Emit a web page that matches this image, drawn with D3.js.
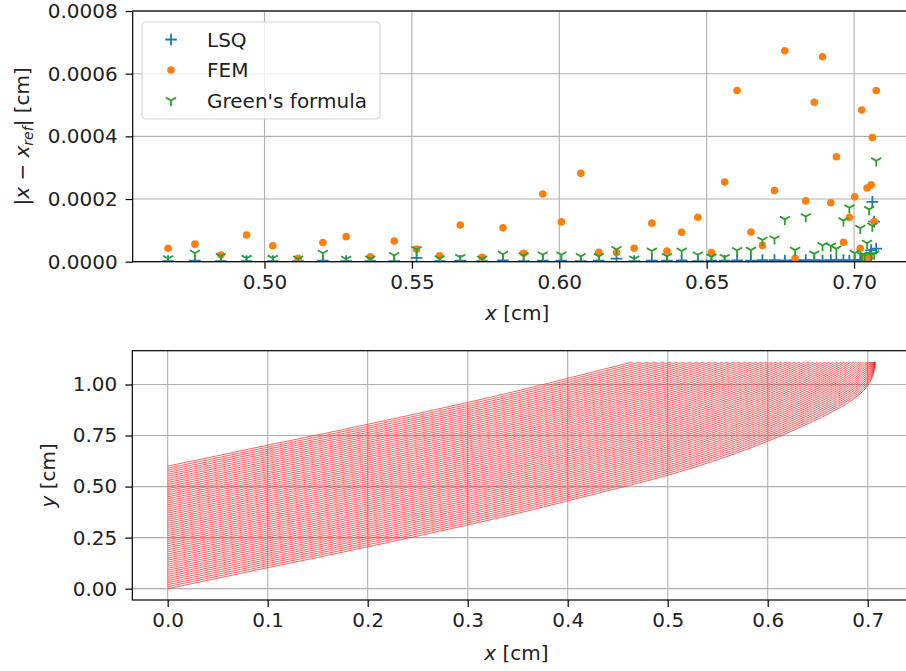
<!DOCTYPE html>
<html>
<head>
<meta charset="utf-8">
<script src="https://cdn.jsdelivr.net/npm/d3@7"></script>
<style>
  body { margin: 0; background: #fff; }
  svg { display: block; font-family: "DejaVu Sans", sans-serif; }
</style>
</head>
<body>
<div id="chart"></div>
<script>
// Endpoint error data (x in cm, errors in cm)
const errX = [0.4673, 0.4764, 0.4852, 0.4939, 0.5028, 0.5114, 0.5198, 0.5277, 0.5359, 0.5440,
  0.5516, 0.5594, 0.5664, 0.5738, 0.5809, 0.5879, 0.5944, 0.6007, 0.6073, 0.6134,
  0.6194, 0.6254, 0.6314, 0.6365, 0.6415, 0.6470, 0.6516, 0.6561, 0.6603, 0.6650,
  0.6689, 0.6730, 0.6765, 0.6800, 0.6836, 0.6865, 0.6893, 0.6921, 0.6940, 0.6964,
  0.6984, 0.7002, 0.7021, 0.7026, 0.7036, 0.7044, 0.7051, 0.7058, 0.7062, 0.7068, 0.7075];

const lsqErr = [0.2e-5, 0.3e-5, 0.2e-5, 0.2e-5, 0.2e-5, 0.2e-5, 0.3e-5, 0.2e-5, 0.2e-5, 0.2e-5,
  1.2e-5, 0.2e-5, 0.3e-5, 0.2e-5, 0.4e-5, 0.2e-5, 0.3e-5, 0.3e-5, 0.2e-5, 0.3e-5,
  1.0e-5, 0.2e-5, 0.3e-5, 0.3e-5, 0.4e-5, 0.2e-5, 0.3e-5, 0.3e-5, 0.4e-5, 0.3e-5,
  0.5e-5, 0.5e-5, 0.4e-5, 0.5e-5, 0.5e-5, 0.5e-5, 0.4e-5, 0.5e-5, 0.5e-5, 0.5e-5,
  0.4e-5, 0.4e-5, 0.5e-5, 0.6e-5, 0.8e-5, 1.0e-5, 1.2e-5, 3.7e-5, 19.1e-5, 12.8e-5, 4.2e-5];

const femErr = [4.3e-5, 5.6e-5, 2.1e-5, 8.5e-5, 5.1e-5, 1.1e-5, 6.1e-5, 8.0e-5, 1.6e-5, 6.6e-5,
  4.0e-5, 1.9e-5, 11.7e-5, 1.4e-5, 10.8e-5, 2.7e-5, 21.6e-5, 12.7e-5, 28.2e-5, 3.0e-5,
  2.9e-5, 4.3e-5, 12.3e-5, 3.4e-5, 9.4e-5, 14.2e-5, 2.9e-5, 25.4e-5, 54.6e-5, 9.5e-5,
  5.2e-5, 22.7e-5, 67.3e-5, 1.1e-5, 19.4e-5, 50.9e-5, 65.4e-5, 18.8e-5, 33.5e-5, 6.2e-5,
  14.2e-5, 20.7e-5, 4.3e-5, 48.4e-5, 1.0e-5, 23.5e-5, 1.5e-5, 24.5e-5, 39.6e-5, 12.8e-5, 54.6e-5];

const greenErr = [1.0e-5, 2.7e-5, 1.7e-5, 1.1e-5, 1.1e-5, 0.9e-5, 2.7e-5, 0.8e-5, 0.9e-5, 2.0e-5,
  3.9e-5, 1.0e-5, 1.4e-5, 0.9e-5, 2.4e-5, 1.9e-5, 2.2e-5, 2.2e-5, 1.7e-5, 1.7e-5,
  3.9e-5, 0.9e-5, 3.4e-5, 1.7e-5, 3.4e-5, 2.2e-5, 1.5e-5, 1.4e-5, 3.6e-5, 3.7e-5,
  6.9e-5, 7.3e-5, 13.5e-5, 3.7e-5, 14.4e-5, 2.5e-5, 5.2e-5, 5.0e-5, 4.1e-5, 13.1e-5,
  17.2e-5, 2.7e-5, 10.7e-5, 2.1e-5, 2.1e-5, 5.9e-5, 16.7e-5, 2.1e-5, 11.4e-5, 2.5e-5, 32.2e-5];

const seriesNames = ["LSQ", "FEM", "Green's formula"];
const seriesColors = ["#1f77b4", "#ff7f0e", "#2ca02c"];

const errTicksX = [0.50, 0.55, 0.60, 0.65, 0.70];
const errTicksY = [0, 0.0002, 0.0004, 0.0006, 0.0008];
const errLimY = [0, 0.0008];

// Trajectories: base path shape and start heights on x = 0
const pathX = [0, 0.05, 0.1, 0.15, 0.2, 0.25, 0.3, 0.35, 0.4, 0.45, 0.5, 0.55, 0.6,
  0.63, 0.66, 0.68, 0.69, 0.70, 0.704, 0.706, 0.707, 0.7075];
const pathY = [0, 0.051, 0.103, 0.153, 0.205, 0.258, 0.312, 0.369, 0.43, 0.492, 0.555, 0.632, 0.722,
  0.785, 0.855, 0.91, 0.945, 0.995, 1.03, 1.06, 1.085, 1.12];
const startY = [0, 0.01, 0.02, 0.03, 0.04, 0.05, 0.06, 0.07, 0.08, 0.09,
  0.10, 0.11, 0.12, 0.13, 0.14, 0.15, 0.16, 0.17, 0.18, 0.19,
  0.20, 0.21, 0.22, 0.23, 0.24, 0.25, 0.26, 0.27, 0.28, 0.29,
  0.30, 0.31, 0.32, 0.33, 0.34, 0.35, 0.36, 0.37, 0.38, 0.39,
  0.40, 0.41, 0.42, 0.43, 0.44, 0.45, 0.46, 0.47, 0.48, 0.49,
  0.50, 0.51, 0.52, 0.53, 0.54, 0.55, 0.56, 0.57, 0.58, 0.59, 0.60];
const yCut = 1.11;

const trajTicksX = [0, 0.1, 0.2, 0.3, 0.4, 0.5, 0.6, 0.7];
const trajTicksY = [0, 0.25, 0.5, 0.75, 1.0];

// Layout
const width = 906, height = 671;
const fontSize = 20;
const panelTop = { left: 132.7, right: 911.6, top: 11, bottom: 261.7 };
const panelBot = { left: 132.3, right: 910.6, top: 350.7, bottom: 600 };

const svg = d3.select("#chart").append("svg")
  .attr("width", width)
  .attr("height", height)
  .attr("viewBox", `0 0 ${width} ${height}`);

svg.append("rect").attr("width", width).attr("height", height).attr("fill", "#fff");

function padded(ext, frac) {
  const p = (ext[1] - ext[0]) * frac;
  return [ext[0] - p, ext[1] + p];
}

function drawFrame(p, x, y, xTicks, yTicks, xFmt, yFmt) {
  const g = svg.append("g");
  // grid
  g.selectAll(".gx").data(xTicks).join("line")
    .attr("x1", d => x(d)).attr("x2", d => x(d))
    .attr("y1", p.top).attr("y2", p.bottom)
    .attr("stroke", "#b0b0b0").attr("stroke-width", 1.1);
  g.selectAll(".gy").data(yTicks).join("line")
    .attr("x1", p.left).attr("x2", p.right)
    .attr("y1", d => y(d)).attr("y2", d => y(d))
    .attr("stroke", "#b0b0b0").attr("stroke-width", 1.1);

  const xAxis = svg.append("g")
    .attr("transform", `translate(0,${p.bottom})`)
    .call(d3.axisBottom(x).tickValues(xTicks).tickFormat(xFmt).tickSize(7).tickPadding(6).tickSizeOuter(0));
  const yAxis = svg.append("g")
    .attr("transform", `translate(${p.left},0)`)
    .call(d3.axisLeft(y).tickValues(yTicks).tickFormat(yFmt).tickSize(7).tickPadding(8).tickSizeOuter(0));
  [xAxis, yAxis].forEach(a => {
    a.select(".domain").remove();
    a.selectAll("line").attr("stroke", "#000").attr("stroke-width", 1.2);
    a.selectAll("text").attr("fill", "#222").style("font-size", fontSize + "px")
      .style("font-family", "DejaVu Sans, sans-serif");
  });
  return g;
}

function drawSpines(p) {
  svg.append("rect")
    .attr("x", p.left).attr("y", p.top)
    .attr("width", p.right - p.left).attr("height", p.bottom - p.top)
    .attr("fill", "none").attr("stroke", "#000").attr("stroke-width", 1.2);
}

const markerPath = {
  plus: "M-5.8,0H5.8M0,-5.8V5.8",
  tri: "M0,0V5.8M0,0L-5.02,-2.9M0,0L5.02,-2.9"
};

function drawMarker(g, kind, color, cx, cy) {
  if (kind === "dot") {
    g.append("circle").attr("cx", cx).attr("cy", cy).attr("r", 3.8).attr("fill", color);
  } else {
    g.append("path").attr("d", markerPath[kind])
      .attr("transform", `translate(${cx},${cy})`)
      .attr("fill", "none").attr("stroke", color).attr("stroke-width", 1.8);
  }
}

// ---- Top panel: endpoint errors ----
const xErr = d3.scaleLinear().domain(padded(d3.extent(errX), 0.05)).range([panelTop.left, panelTop.right]);
const yErr = d3.scaleLinear().domain(errLimY).range([panelTop.bottom, panelTop.top]);

drawFrame(panelTop, xErr, yErr, errTicksX, errTicksY, d3.format(".2f"), d3.format(".4f"));

svg.append("clipPath").attr("id", "clipTop").append("rect")
  .attr("x", panelTop.left).attr("y", panelTop.top)
  .attr("width", panelTop.right - panelTop.left).attr("height", panelTop.bottom - panelTop.top);

const pts = svg.append("g").attr("clip-path", "url(#clipTop)");
const seriesData = [lsqErr, femErr, greenErr];
const kinds = ["plus", "dot", "tri"];
seriesData.forEach((vals, s) => {
  const gs = pts.append("g");
  vals.forEach((v, i) => drawMarker(gs, kinds[s], seriesColors[s], xErr(errX[i]), yErr(v)));
});

drawSpines(panelTop);

// legend
const leg = svg.append("g").attr("transform", "translate(142,22)");
leg.append("rect").attr("width", 238).attr("height", 97).attr("rx", 4)
  .attr("fill", "#fff").attr("fill-opacity", 0.8)
  .attr("stroke", "#d6d6d6").attr("stroke-width", 1.2);
seriesNames.forEach((name, s) => {
  const cy = 17.5 + s * 30.5;
  drawMarker(leg, kinds[s], seriesColors[s], 29, cy);
  leg.append("text").attr("x", 65).attr("y", cy).attr("dy", "0.35em")
    .style("font-size", fontSize + "px").attr("fill", "#222").text(name);
});

// axis labels
const yLabTop = svg.append("text")
  .attr("transform", `translate(29,${(panelTop.top + panelTop.bottom) / 2}) rotate(-90)`)
  .attr("text-anchor", "middle")
  .style("font-size", fontSize + "px").attr("fill", "#222");
yLabTop.append("tspan").text("|");
yLabTop.append("tspan").style("font-style", "italic").text("x");
yLabTop.append("tspan").text(" \u2212 ");
yLabTop.append("tspan").style("font-style", "italic").text("x");
yLabTop.append("tspan").style("font-style", "italic").style("font-size", "14px").attr("dy", "4").text("ref");
yLabTop.append("tspan").attr("dy", "-4").text("| [cm]");

function xLabel(p, yBase) {
  const t = svg.append("text")
    .attr("x", (p.left + p.right) / 2 - 5).attr("y", yBase)
    .attr("text-anchor", "middle")
    .style("font-size", fontSize + "px").attr("fill", "#222");
  t.append("tspan").style("font-style", "italic").text("x");
  t.append("tspan").text(" [cm]");
}
xLabel(panelTop, 320);

// ---- Bottom panel: trajectories ----
const xTraj = d3.scaleLinear().domain(padded(d3.extent(pathX), 0.05)).range([panelBot.left, panelBot.right]);
const yTraj = d3.scaleLinear().domain(padded([0, yCut], 0.05)).range([panelBot.bottom, panelBot.top]);

drawFrame(panelBot, xTraj, yTraj, trajTicksX, trajTicksY, d3.format(".1f"), d3.format(".2f"));

svg.append("clipPath").attr("id", "clipCut").append("rect")
  .attr("x", panelBot.left).attr("y", yTraj(yCut))
  .attr("width", panelBot.right - panelBot.left).attr("height", panelBot.bottom - yTraj(yCut));

const base = pathX.map((x, i) => [x, pathY[i]]);
const line = d3.line()
  .x(d => xTraj(d[0]))
  .y(d => yTraj(d[1]))
  .curve(d3.curveMonotoneX);

svg.append("g").attr("clip-path", "url(#clipCut)")
  .selectAll("path").data(startY).join("path")
  .attr("d", y0 => line(base.map(d => [d[0], d[1] + y0])))
  .attr("fill", "none")
  .attr("stroke", "#ff0000")
  .attr("stroke-width", 0.65);

drawSpines(panelBot);

svg.append("text")
  .attr("transform", `translate(55,${(panelBot.top + panelBot.bottom) / 2}) rotate(-90)`)
  .attr("text-anchor", "middle")
  .style("font-size", fontSize + "px").attr("fill", "#222")
  .call(t => {
    t.append("tspan").style("font-style", "italic").text("y");
    t.append("tspan").text(" [cm]");
  });

xLabel(panelBot, 660);
</script>
</body>
</html>
